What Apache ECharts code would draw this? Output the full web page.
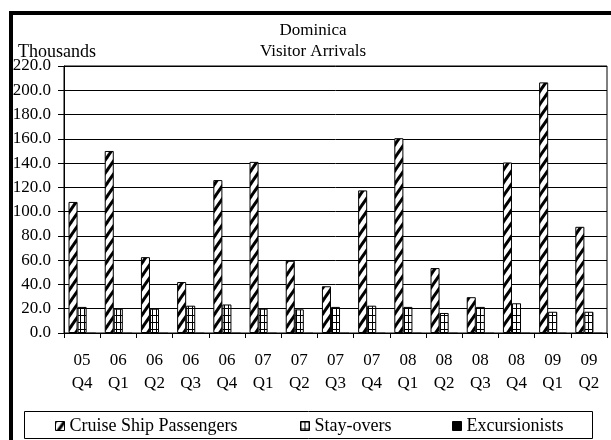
<!DOCTYPE html>
<html>
<head>
<meta charset="utf-8">
<script src="https://cdn.jsdelivr.net/npm/echarts@6/dist/echarts.min.js"></script>
<style>
  html, body { margin: 0; padding: 0; background: #fff; }
  #chart { width: 611px; height: 440px; }
</style>
</head>
<body>
<div id="chart"></div>
<script>
// Quarterly visitor arrivals, thousands
var quarters = ['05\nQ4', '06\nQ1', '06\nQ2', '06\nQ3', '06\nQ4', '07\nQ1', '07\nQ2', '07\nQ3',
                '07\nQ4', '08\nQ1', '08\nQ2', '08\nQ3', '08\nQ4', '09\nQ1', '09\nQ2'];
var cruisePassengers = [108, 150, 62.5, 42, 126, 141, 59.5, 38.5, 117.5, 160.5, 53.5, 29.5, 140.5, 206.5, 87.5];
var stayOvers = [21.5, 20, 20, 22.5, 23.5, 20, 19.5, 21.5, 22.5, 21.5, 16.5, 21.5, 24.5, 17.5, 17.5];
var excursionists = [0.3, 0.3, 0.3, 0.3, 0.3, 0.3, 0.3, 0.3, 0.3, 0.3, 0.3, 0.3, 0.3, 0.3, 0.3];
var yTicks = { min: 0, max: 220, step: 20 };

var FONT = 'Liberation Serif';

// Hatch fills for the bars
function stripeTile() {
  var W = 9, H = 13;
  var c = document.createElement('canvas');
  c.width = W; c.height = H;
  var g = c.getContext('2d');
  g.fillStyle = '#fff';
  g.fillRect(0, 0, W, H);
  g.strokeStyle = '#000';
  g.lineWidth = 3;
  for (var n = 0; n <= 2; n++) {
    g.beginPath();
    g.moveTo(-W, H * n + H);
    g.lineTo(2 * W, H * n - 2 * H);
    g.stroke();
  }
  return c;
}
function gridTile() {
  var W = 4, H = 7;
  var c = document.createElement('canvas');
  c.width = W; c.height = H;
  var g = c.getContext('2d');
  g.fillStyle = '#fff';
  g.fillRect(0, 0, W, H);
  g.fillStyle = '#000';
  g.fillRect(0, 0, 1, H);
  g.fillRect(0, 0, W, 1);
  return c;
}

var stripeFill = { image: stripeTile(), repeat: 'repeat' };
var gridFill = { image: gridTile(), repeat: 'repeat' };

var textBase = { fontFamily: FONT, fontSize: 17, color: '#000' };

function legendAt(left, name) {
  return {
    data: [{ name: name, icon: 'rect' }],
    left: left,
    top: 417,
    padding: 0,
    itemWidth: 9,
    itemHeight: 9,
    selectedMode: false,
    itemStyle: { borderColor: '#000', borderWidth: 1 },
    textStyle: { fontFamily: FONT, fontSize: 18, color: '#000', lineHeight: 18 }
  };
}

var chart = echarts.init(document.getElementById('chart'), null, { renderer: 'canvas' });
chart.setOption({
  animation: false,
  backgroundColor: '#fff',
  grid: {
    left: 64, right: 4, top: 66, bottom: 107,
    show: true, borderColor: '#000', borderWidth: 1, backgroundColor: 'transparent'
  },
  legend: [
    legendAt(55, 'Cruise Ship Passengers'),
    legendAt(300, 'Stay-overs'),
    legendAt(452, 'Excursionists')
  ],
  xAxis: {
    type: 'category',
    data: quarters,
    axisLine: { lineStyle: { color: '#000', width: 1 } },
    axisTick: { show: true, length: 5, lineStyle: { color: '#000' } },
    axisLabel: Object.assign({ margin: 16, lineHeight: 23, interval: 0 }, textBase),
    splitLine: { show: false }
  },
  yAxis: {
    type: 'value',
    min: yTicks.min,
    max: yTicks.max,
    interval: yTicks.step,
    axisLine: { show: true, lineStyle: { color: '#000', width: 1 } },
    axisTick: { show: true, length: 6, lineStyle: { color: '#000' } },
    axisLabel: Object.assign({ margin: 13, formatter: function (v) { return v.toFixed(1); } }, textBase),
    splitLine: { show: true, lineStyle: { color: '#000', width: 1 } }
  },
  series: [
    {
      name: 'Cruise Ship Passengers', type: 'bar', data: cruisePassengers,
      barCategoryGap: '25%', barGap: '0%',
      itemStyle: { color: stripeFill, borderColor: '#000', borderWidth: 1 }
    },
    {
      name: 'Stay-overs', type: 'bar', data: stayOvers,
      barCategoryGap: '25%', barGap: '0%',
      itemStyle: { color: gridFill, borderColor: '#000', borderWidth: 1 }
    },
    {
      name: 'Excursionists', type: 'bar', data: excursionists,
      barCategoryGap: '25%', barGap: '0%',
      itemStyle: { color: '#000', borderColor: '#000', borderWidth: 0 }
    }
  ],
  graphic: [
    {
      type: 'rect', silent: true, z: 100,
      shape: { x: 11, y: 13, width: 700, height: 500 },
      style: { fill: null, stroke: '#000', lineWidth: 4 }
    },
    {
      type: 'rect', silent: true, z: 1,
      shape: { x: 24.5, y: 411.5, width: 568, height: 27 },
      style: { fill: null, stroke: '#000', lineWidth: 1 }
    },
    {
      type: 'text', x: 313, y: 31, silent: true,
      style: { text: 'Dominica', font: '17px "Liberation Serif"', fill: '#000', textAlign: 'center', textVerticalAlign: 'middle' }
    },
    {
      type: 'text', x: 313, y: 52, silent: true,
      style: { text: 'Visitor Arrivals', font: '17px "Liberation Serif"', fill: '#000', textAlign: 'center', textVerticalAlign: 'middle' }
    },
    {
      type: 'text', x: 18, y: 52, silent: true,
      style: { text: 'Thousands', font: '18px "Liberation Serif"', fill: '#000', textAlign: 'left', textVerticalAlign: 'middle' }
    }
  ]
});
</script>
</body>
</html>
